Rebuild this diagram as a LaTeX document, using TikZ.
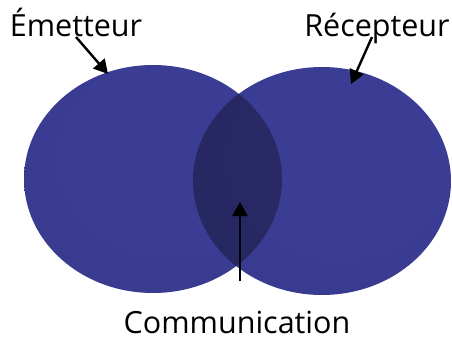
\documentclass[tikz,border=0pt]{standalone}
\usepackage{fontspec}
\setmainfont{Open Sans}
\usetikzlibrary{arrows.meta,positioning}
\definecolor{SphereBlue}{RGB}{59,61,149}
\definecolor{SphereEdge}{RGB}{28,28,66}
\pgfdeclareradialshading{sphere}{\pgfpoint{6bp}{8bp}}{color(0bp)=(SphereBlue);color(20bp)=(SphereBlue);color(36bp)=(SphereBlue!88!SphereEdge);color(46bp)=(SphereBlue!55!SphereEdge);color(54bp)=(SphereEdge)}

\begin{document}
\begin{tikzpicture}[x=1pt,y=-1pt,every node/.style={font=\fontsize{30.5}{32}\selectfont,inner sep=0pt}]
      \useasboundingbox (0,0) rectangle (452,339);
      % the two spheres
      \shade[shading=sphere] (153,179) ellipse [x radius=129,y radius=114];
      \shade[shading=sphere] (322,181) ellipse [x radius=129,y radius=114];
      \begin{scope}
        \clip (153,179) ellipse [x radius=129,y radius=114];
        \fill[black,opacity=0.32] (322,181) ellipse [x radius=129,y radius=114];
      \end{scope}
      % labels
      \node[anchor=base] (emet) at (76,37) {Émetteur};
      \node[anchor=base] (recep) at (377,37) {Récepteur};
      \node[anchor=base] (comm) at (237,333) {Communication};
      \coordinate (emettip) at (108,74);
      \coordinate (receptip) at (351,84);
      \coordinate (commtail) at (240,281);
      \coordinate (commtip) at (240,202);
      \draw[-{Triangle[length=14pt,width=15pt]},line width=2.4pt] (emet.base) -- (emettip);
      \draw[-{Triangle[length=14pt,width=15pt]},line width=2.4pt] ([xshift=-5pt]recep.base) -- (receptip);
      \draw[-{Triangle[length=14pt,width=15pt]},line width=2.4pt] (commtail) -- (commtip);
    \end{tikzpicture}
\end{document}
